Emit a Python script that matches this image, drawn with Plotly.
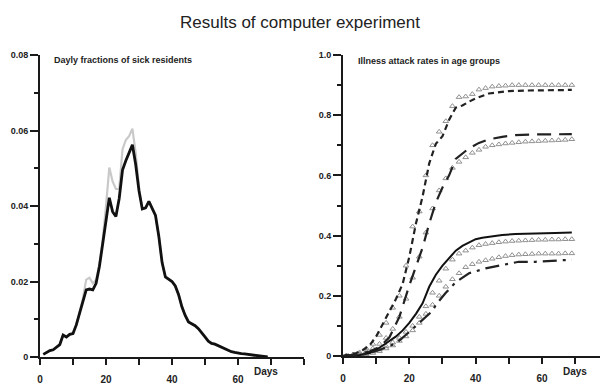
import plotly.graph_objects as go

# ---------------- data: left panel (daily fraction of sick residents) ----------------
days_left = list(range(1, 70))
sick_black = [0.0007, 0.0012, 0.0017, 0.0019, 0.0025, 0.0033, 0.0058, 0.0053, 0.0060, 0.0062,
              0.0085, 0.0118, 0.0150, 0.0178, 0.0180, 0.0178, 0.0195, 0.0240, 0.0300, 0.0360,
              0.0422, 0.0385, 0.0372, 0.0420, 0.0495, 0.0520, 0.0540, 0.0562, 0.0510, 0.0440,
              0.0392, 0.0395, 0.0412, 0.0392, 0.0375, 0.0320, 0.0250, 0.0212, 0.0205, 0.0200,
              0.0188, 0.0165, 0.0133, 0.0110, 0.0093, 0.0088, 0.0083, 0.0075, 0.0065, 0.0053,
              0.0042, 0.0036, 0.0034, 0.0030, 0.0025, 0.0020, 0.0016, 0.0014, 0.0012, 0.0010,
              0.0009, 0.0008, 0.0007, 0.0006, 0.0005, 0.0004, 0.0003, 0.0001, 0.0000]
sick_grey = [0.0007, 0.0012, 0.0017, 0.0019, 0.0025, 0.0033, 0.0058, 0.0053, 0.0060, 0.0062,
             0.0085, 0.0118, 0.0155, 0.0205, 0.0210, 0.0195, 0.0205, 0.0245, 0.0310, 0.0400,
             0.0502, 0.0465, 0.0445, 0.0445, 0.0550, 0.0575, 0.0585, 0.0605, 0.0540, 0.0450,
             0.0392, 0.0395, 0.0412, 0.0392, 0.0375, 0.0320, 0.0250, 0.0212, 0.0205, 0.0200,
             0.0188, 0.0165, 0.0133, 0.0110, 0.0093, 0.0088, 0.0083, 0.0075, 0.0065, 0.0053,
             0.0042, 0.0036, 0.0034, 0.0030, 0.0025, 0.0020, 0.0016, 0.0014, 0.0012, 0.0010,
             0.0009, 0.0008, 0.0007, 0.0006, 0.0005, 0.0004, 0.0003, 0.0001, 0.0000]

# ---------------- data: right panel (attack rates in age groups) ----------------
tri_days = list(range(1, 70, 2))
tri_a = [0.0, 0.005, 0.012, 0.025, 0.04, 0.07, 0.11, 0.16, 0.20, 0.30, 0.43, 0.48, 0.60, 0.70,
         0.745, 0.78, 0.83, 0.86, 0.862, 0.87, 0.885, 0.89, 0.895, 0.897, 0.898, 0.90, 0.90,
         0.90, 0.90, 0.90, 0.90, 0.90, 0.90, 0.90, 0.90]
tri_b = [0.0, 0.003, 0.008, 0.015, 0.025, 0.04, 0.06, 0.09, 0.13, 0.19, 0.26, 0.33, 0.41, 0.49,
         0.55, 0.59, 0.625, 0.645, 0.66, 0.675, 0.685, 0.695, 0.70, 0.703, 0.706, 0.708, 0.71,
         0.712, 0.713, 0.714, 0.715, 0.716, 0.717, 0.718, 0.72]
tri_c = [0.0, 0.002, 0.005, 0.01, 0.015, 0.022, 0.032, 0.045, 0.06, 0.08, 0.10, 0.13, 0.165,
         0.21, 0.25, 0.29, 0.32, 0.34, 0.35, 0.36, 0.368, 0.372, 0.375, 0.378, 0.38, 0.382,
         0.383, 0.384, 0.385, 0.386, 0.386, 0.387, 0.387, 0.388, 0.388]
tri_d = [0.0, 0.001, 0.003, 0.006, 0.01, 0.016, 0.025, 0.035, 0.05, 0.065, 0.085, 0.11, 0.14,
         0.17, 0.20, 0.23, 0.255, 0.275, 0.295, 0.305, 0.313, 0.318, 0.323, 0.328, 0.332, 0.335,
         0.337, 0.338, 0.339, 0.34, 0.34, 0.34, 0.34, 0.341, 0.341]

dash_days = [0, 2, 4, 6, 8, 10, 12, 14, 16, 18, 20, 22, 24, 26, 28, 30, 32, 34, 36, 38, 40, 44, 50, 56, 62, 69]
dash_vals = [0, 0.004, 0.01, 0.02, 0.035, 0.065, 0.105, 0.145, 0.19, 0.24, 0.33, 0.44, 0.53, 0.64,
             0.705, 0.73, 0.785, 0.825, 0.832, 0.845, 0.856, 0.872, 0.88, 0.882, 0.883, 0.884]

long_days = [0, 4, 8, 11, 14, 17, 20, 22, 24, 26, 28, 30, 32, 34, 36, 38, 41, 44, 48, 52, 58, 64, 69]
long_vals = [0, 0.005, 0.015, 0.03, 0.062, 0.13, 0.235, 0.30, 0.36, 0.44, 0.51, 0.56, 0.60, 0.655,
             0.672, 0.69, 0.708, 0.72, 0.728, 0.734, 0.736, 0.737, 0.737]

solid_days = [0, 5, 8, 10, 12, 14, 16, 18, 20, 22, 24, 26, 28, 30, 32, 34, 36, 38, 40, 42, 45, 48, 52, 58, 64, 69]
solid_vals = [0, 0.003, 0.01, 0.02, 0.035, 0.05, 0.065, 0.085, 0.11, 0.14, 0.175, 0.23, 0.27, 0.30,
              0.325, 0.35, 0.366, 0.378, 0.388, 0.393, 0.398, 0.402, 0.405, 0.408, 0.409, 0.41]

ldd_days = [0, 6, 11, 16, 20, 24, 27, 28, 31, 34, 38, 43, 48, 53, 58, 63, 69]
ldd_vals = [0, 0.005, 0.02, 0.042, 0.08, 0.12, 0.15, 0.17, 0.21, 0.245, 0.275, 0.291, 0.302,
            0.313, 0.313, 0.317, 0.32]

# ---------------- tick labels ----------------
x_tickvals = [0, 10, 20, 30, 40, 50, 60, 70, 80]
x_ticktext = ["0", "", "20", "", "40", "", "60", "", ""]
yl_tickvals = [0, 0.02, 0.04, 0.06, 0.08]
yl_ticktext = ["0", "0.02", "0.04", "0.06", "0.08"]
yr_tickvals = [0, 0.2, 0.4, 0.6, 0.8, 1.0]
yr_ticktext = ["0", "0.2", "0.4", "0.6", "0.8", "1.0"]

W, H = 600, 389
FONT = "Liberation Sans, Arial, sans-serif"
AX = "#1a1a1a"

fig = go.Figure()

# left panel
fig.add_trace(go.Scatter(x=days_left, y=sick_grey, mode="lines",
                         line=dict(color="#c9c9c9", width=2.2), xaxis="x", yaxis="y"))
fig.add_trace(go.Scatter(x=days_left, y=sick_black, mode="lines",
                         line=dict(color="#111111", width=2.8), xaxis="x", yaxis="y"))

# right panel
tri_marker = dict(symbol="triangle-up-open", size=5, color="#909090", line=dict(width=1, color="#909090"))
for ys in (tri_a, tri_b, tri_c, tri_d):
    fig.add_trace(go.Scatter(x=tri_days, y=ys, mode="markers", marker=tri_marker,
                             xaxis="x2", yaxis="y2"))
fig.add_trace(go.Scatter(x=dash_days, y=dash_vals, mode="lines",
                         line=dict(color="#222", width=2.2, dash="6px,4px"), xaxis="x2", yaxis="y2"))
fig.add_trace(go.Scatter(x=long_days, y=long_vals, mode="lines",
                         line=dict(color="#222", width=2.2, dash="14px,8px"), xaxis="x2", yaxis="y2"))
fig.add_trace(go.Scatter(x=solid_days, y=solid_vals, mode="lines",
                         line=dict(color="#111", width=2), xaxis="x2", yaxis="y2"))
fig.add_trace(go.Scatter(x=ldd_days, y=ldd_vals, mode="lines",
                         line=dict(color="#222", width=2.2, dash="14px,6px,3px,6px"), xaxis="x2", yaxis="y2"))

def px(x):
    return x / W

def py(y):
    return 1 - y / H

xcommon = dict(showgrid=False, zeroline=False, showline=True, linecolor=AX, linewidth=2,
               ticks="outside", ticklen=6, tickwidth=1.5, tickcolor=AX, automargin=False,
               tickvals=x_tickvals, ticktext=x_ticktext, ticklabelstandoff=6,
               tickfont=dict(family=FONT, size=10, color="#222", weight="bold"), fixedrange=True)
ycommon = dict(showgrid=False, zeroline=False, showline=True, linecolor=AX, linewidth=2,
               ticks="outside", ticklen=8, tickwidth=1.5, tickcolor=AX, automargin=False,
               tickfont=dict(family=FONT, size=9, color="#222", weight="bold"), fixedrange=True)

fig.update_layout(
    width=W, height=H,
    margin=dict(l=0, r=0, t=0, b=0),
    paper_bgcolor="white", plot_bgcolor="white",
    showlegend=False,
    xaxis=dict(domain=[px(40), px(304)], range=[0, 80], anchor="y", **xcommon),
    yaxis=dict(domain=[py(357), py(55)], range=[0, 0.08], anchor="x",
               tickvals=yl_tickvals, ticktext=yl_ticktext,
               minor=dict(ticks="outside", ticklen=4, dtick=0.01, tickcolor=AX, tickwidth=1.5),
               **ycommon),
    xaxis2=dict(domain=[px(343), 1.0], range=[0, 77.5], anchor="y2", **xcommon),
    yaxis2=dict(domain=[py(356), py(55)], range=[0, 1.0], anchor="x2",
                tickvals=yr_tickvals, ticktext=yr_ticktext,
                minor=dict(ticks="outside", ticklen=4, dtick=0.1, tickcolor=AX, tickwidth=1.5),
                **ycommon),
    annotations=[
        dict(text="Results of computer experiment", x=0.5, y=py(22), xref="paper", yref="paper",
             xanchor="center", yanchor="middle", showarrow=False,
             font=dict(family=FONT, size=17, color="#222")),
        dict(text="<b>Dayly fractions of sick residents</b>", x=px(52), y=py(60), xref="paper",
             yref="paper", xanchor="left", yanchor="middle", showarrow=False,
             font=dict(family=FONT, size=9, color="#222")),
        dict(text="<b>Illness attack rates in age groups</b>", x=px(356), y=py(61), xref="paper",
             yref="paper", xanchor="left", yanchor="middle", showarrow=False,
             font=dict(family=FONT, size=9, color="#222")),
        dict(text="<b>Days</b>", x=px(266), y=py(371), xref="paper", yref="paper",
             xanchor="center", yanchor="middle", showarrow=False,
             font=dict(family=FONT, size=10, color="#222")),
        dict(text="<b>Days</b>", x=px(575), y=py(371), xref="paper", yref="paper",
             xanchor="center", yanchor="middle", showarrow=False,
             font=dict(family=FONT, size=10, color="#222")),
    ],
)

fig.write_html(
    "out.html",
    config={"displayModeBar": False},
    post_script="document.body.style.margin='0';document.body.style.padding='0';"
                "document.documentElement.style.overflow='hidden';",
)
